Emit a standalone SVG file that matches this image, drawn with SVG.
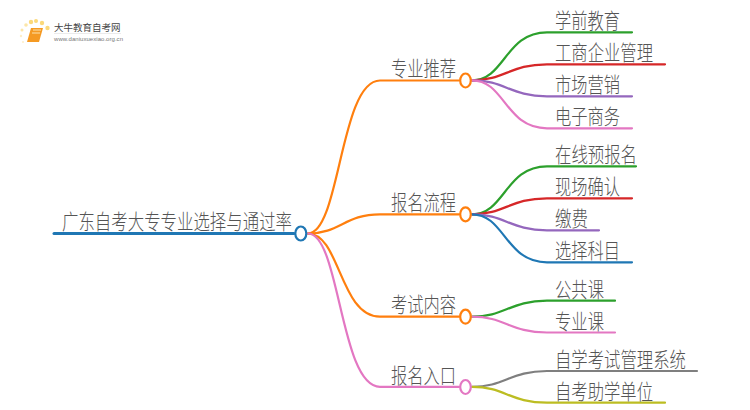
<svg xmlns="http://www.w3.org/2000/svg" width="750" height="410" viewBox="0 0 750 410">
<style>
.c{fill:none;stroke-width:2.2;stroke-linecap:round}
.n{fill:#fff;stroke-width:2.2}
text{font-family:"Noto Sans CJK SC","Liberation Sans",sans-serif;font-weight:300;fill:#555;font-size:21px}
.g{stroke:#2ca02c}.r{stroke:#d62728}.p{stroke:#9467bd}.k{stroke:#e377c2}.b{stroke:#1f77b4}.o{stroke:#ff7f0e}.y{stroke:#7f7f7f}.l{stroke:#bcbd22}
</style>
<rect width="750" height="410" fill="#fff"/>
<g id="logo">
<circle cx="31" cy="22" r="2.2" fill="#fbd97a"/><circle cx="36" cy="21" r="2" fill="#fbd97a"/><circle cx="42" cy="23" r="2.2" fill="#fbd97a"/><circle cx="47.500" cy="28" r="2.200" fill="#fbd97a"/><circle cx="26" cy="25" r="1.800" fill="#fce6a8"/><circle cx="22" cy="30" r="1.500" fill="#fce6a8"/><circle cx="21" cy="36" r="1.200" fill="#fdeec8"/><circle cx="23" cy="42" r="1" fill="#fdeec8"/>
<path d="M31 28H43L39 42H27Z" fill="#f59a23"/><path d="M33 30H41M32 33H40" stroke="#fde3ae" stroke-width="1"/>
<text x="54" y="31" style="font-size:9.500px;font-weight:400;fill:#444">大牛教育自考网</text>
<path d="M54 33.500H121" stroke="#ddd" stroke-width=".6"/>
<text x="54" y="41" style="font-size:6px;font-weight:400;font-family:'Liberation Sans',sans-serif;fill:#777" textLength="69">www.daniuxuexiao.org.cn</text>
</g>
<g id="connectors">
<path class="c b" d="M54 233.500H294" style="stroke-width:3"/>
<path class="c o" d="M308 233.500C340 233.500 340 80.500 380 80.500H459"/>
<path class="c o" d="M308 233.500C340 233.500 345 214.300 380 214.300H459"/>
<path class="c o" d="M308 233.500C340 233.500 340 316.700 380 316.700H459"/>
<path class="c k" d="M308 233.500C340 233.500 340 386.800 380 386.800H459"/>
<path class="c g" d="M472 80.300C505 80.300 505 32.300 547 32.300H632"/>
<path class="c r" d="M472 80.300C505 80.300 510 64.300 547 64.300H665"/>
<path class="c p" d="M472 80.300C505 80.300 510 96.300 547 96.300H632"/>
<path class="c k" d="M472 80.300C505 80.300 505 128.300 547 128.300H632"/>
<path class="c g" d="M472 214.300C505 214.300 505 166.300 547 166.300H636"/>
<path class="c r" d="M472 214.300C505 214.300 510 198.300 547 198.300H632"/>
<path class="c p" d="M472 214.300C505 214.300 510 230.300 547 230.300H599"/>
<path class="c b" d="M472 214.300C505 214.300 505 262.300 547 262.300H632"/>
<path class="c g" d="M472 316.700C505 316.700 510 300.700 547 300.700H615"/>
<path class="c k" d="M472 316.700C505 316.700 510 332.500 547 332.500H615"/>
<path class="c y" d="M472 386.800C505 386.800 510 371 547 371H697"/>
<path class="c l" d="M472 386.800C505 386.800 510 402.700 547 402.700H665"/>
</g>
<g id="root"><ellipse class="n b" cx="300.800" cy="233.500" rx="5.500" ry="7"/><text x="62" y="229" textLength="230" lengthAdjust="spacingAndGlyphs">广东自考大专专业选择与通过率</text></g>
<g id="n1"><ellipse class="n o" cx="465.500" cy="80.500" rx="5.300" ry="7"/><text x="391" y="76" textLength="65" lengthAdjust="spacingAndGlyphs">专业推荐</text></g>
<g id="n2"><ellipse class="n o" cx="465.500" cy="214.300" rx="5.300" ry="7"/><text x="391" y="210" textLength="65" lengthAdjust="spacingAndGlyphs">报名流程</text></g>
<g id="n3"><ellipse class="n o" cx="465.500" cy="316.700" rx="5.300" ry="7"/><text x="391" y="312" textLength="65" lengthAdjust="spacingAndGlyphs">考试内容</text></g>
<g id="n4"><ellipse class="n k" cx="465.500" cy="387" rx="5.300" ry="7"/><text x="391" y="383" textLength="65" lengthAdjust="spacingAndGlyphs">报名入口</text></g>
<g id="l1"><text x="555" y="28" textLength="65" lengthAdjust="spacingAndGlyphs">学前教育</text></g>
<g id="l2"><text x="555" y="60" textLength="98" lengthAdjust="spacingAndGlyphs">工商企业管理</text></g>
<g id="l3"><text x="555" y="92" textLength="65" lengthAdjust="spacingAndGlyphs">市场营销</text></g>
<g id="l4"><text x="555" y="124" textLength="65" lengthAdjust="spacingAndGlyphs">电子商务</text></g>
<g id="l5"><text x="555" y="162" textLength="82" lengthAdjust="spacingAndGlyphs">在线预报名</text></g>
<g id="l6"><text x="555" y="194" textLength="65" lengthAdjust="spacingAndGlyphs">现场确认</text></g>
<g id="l7"><text x="555" y="226" textLength="33" lengthAdjust="spacingAndGlyphs">缴费</text></g>
<g id="l8"><text x="555" y="258" textLength="65" lengthAdjust="spacingAndGlyphs">选择科目</text></g>
<g id="l9"><text x="555" y="296.500" textLength="49" lengthAdjust="spacingAndGlyphs">公共课</text></g>
<g id="l10"><text x="555" y="328.500" textLength="49" lengthAdjust="spacingAndGlyphs">专业课</text></g>
<g id="l11"><text x="555" y="367" textLength="131" lengthAdjust="spacingAndGlyphs">自学考试管理系统</text></g>
<g id="l12"><text x="555" y="398.500" textLength="98" lengthAdjust="spacingAndGlyphs">自考助学单位</text></g>
</svg>
